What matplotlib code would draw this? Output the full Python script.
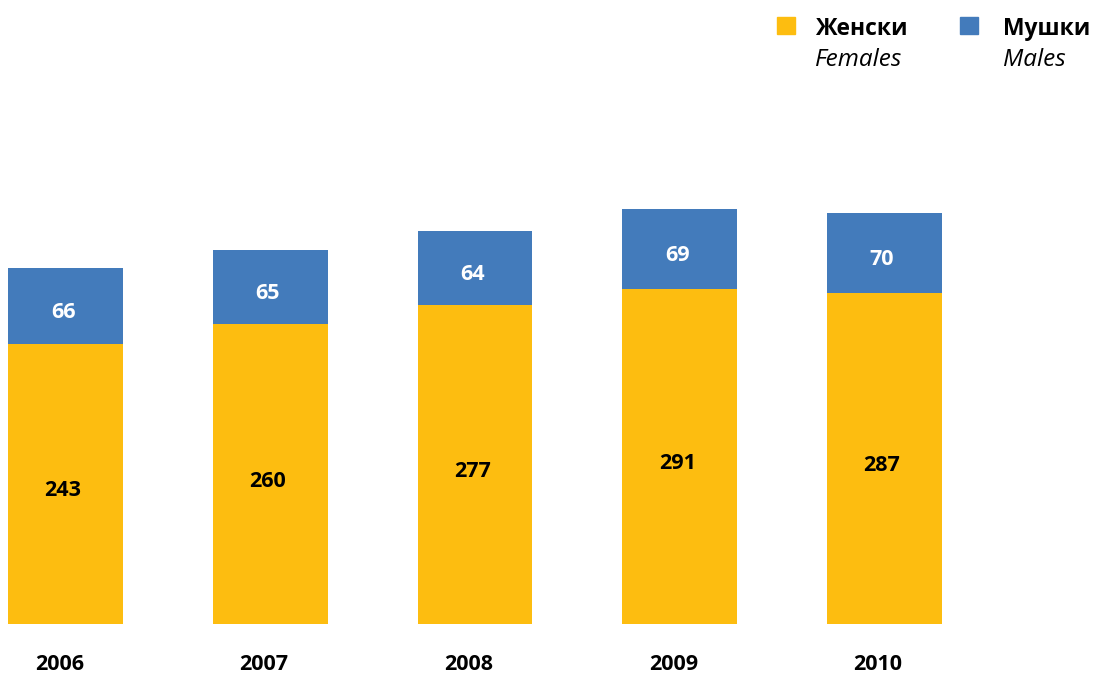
import numpy as np
import matplotlib
matplotlib.use("Agg")
import matplotlib.pyplot as plt
from matplotlib.patches import Rectangle

plt.rcParams['font.family'] = ['Open Sans', 'DejaVu Sans']

years = ['2006', '2007', '2008', '2009', '2010']
females = [243, 260, 277, 291, 287]
males = [66, 65, 64, 69, 70]

yellow = '#FDBD10'
blue = '#437BBB'

fig = plt.figure(figsize=(10.95, 6.75), dpi=100)
ax = fig.add_axes([0, 51 / 675, 1, 524 / 675])

x = np.arange(len(years))
w = 0.56
ax.bar(x, females, width=w, color=yellow, linewidth=0)
ax.bar(x, males, width=w, bottom=females, color=blue, linewidth=0)

for i in range(len(years)):
    ax.text(x[i] - 0.012, females[i] / 2 - 6, str(females[i]), ha='center', va='center',
            fontsize=15.5, fontweight='bold', color='black')
    ax.text(x[i] - 0.012, females[i] + males[i] / 2 - 6, str(males[i]), ha='center', va='center',
            fontsize=15.5, fontweight='bold', color='white')
    ax.text(x[i] - 0.03, -35.5, years[i], ha='center', va='center',
            fontsize=15.5, fontweight='bold', color='black')

ax.set_xlim(-65.5 / 204.7, (1095 - 65.5) / 204.7)
ax.set_ylim(0, 524 / 1.152)
ax.axis('off')

# legend
def px(xp, yp):
    return xp / 1095, 1 - yp / 675

for sx, tx, col, name, eng in [(777, 815, yellow, 'Женски', 'Females'),
                               (960, 1003, blue, 'Мушки', 'Males')]:
    fig.patches.append(Rectangle(px(sx, 34), 18 / 1095, 17 / 675, color=col,
                                 transform=fig.transFigure, figure=fig))
    fig.text(*px(tx, 35), name, fontsize=16.5, fontweight='bold', va='baseline')
    fig.text(*px(tx, 66), eng, fontsize=17.5, fontstyle='italic', va='baseline')

fig.savefig('out.png', dpi=100)
